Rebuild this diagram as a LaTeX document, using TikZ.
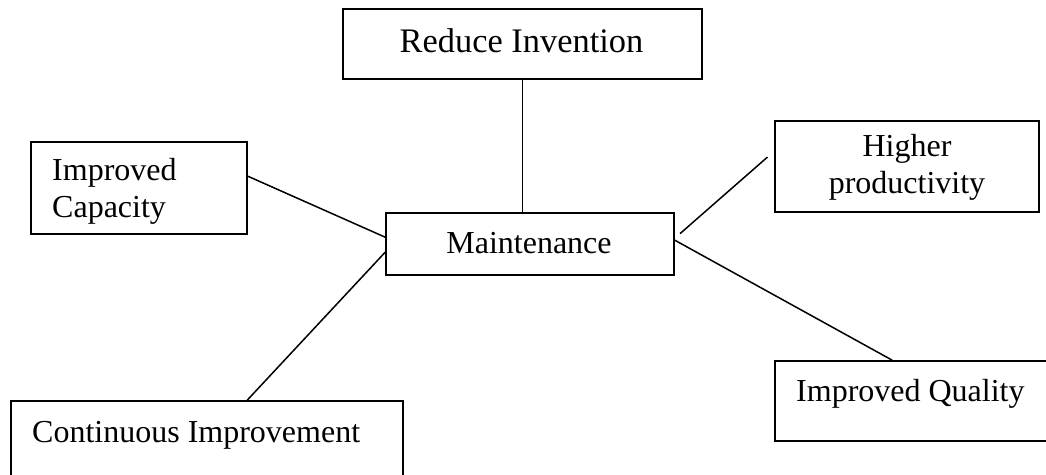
\documentclass[tikz,border=0pt]{standalone}
\usepackage{fontspec}
\setmainfont{Liberation Serif}
\begin{document}
\begin{tikzpicture}[x=1pt,y=-1pt,
  box/.style={draw, line width=1.6pt, rectangle, inner sep=0pt},
  link/.style={line width=1.5pt},
  lbl/.style={inner sep=0pt, font=\fontsize{32}{37}\selectfont},
  biglbl/.style={inner sep=0pt, font=\fontsize{34.4}{40}\selectfont}]
\useasboundingbox (0,0) rectangle (1046,474);
\clip (0,0) rectangle (1046,474);
% boxes
\node[box, minimum width=359pt, minimum height=70pt] (RI) at (522.5,44) {};
\node[box, minimum width=216pt, minimum height=92pt] (IC) at (139,188) {};
\node[box, minimum width=264pt, minimum height=91pt] (HP) at (907,166.5) {};
\node[box, minimum width=288pt, minimum height=62pt] (M) at (530,244) {};
\node[box, minimum width=300pt, minimum height=80pt] (IQ) at (925,401) {};
\node[box, minimum width=392pt, minimum height=99pt] (CI) at (207,450.5) {};
% texts
\node[biglbl, anchor=base] (tRI) at (521.5,52) {Reduce Invention};
\node[lbl, anchor=base] (tM) at (529,253) {Maintenance};
\node[lbl, anchor=base west] (tIC1) at (52,180) {Improved};
\node[lbl, anchor=base west] (tIC2) at (52,217) {Capacity};
\node[lbl, anchor=base] (tHP1) at (907,156) {Higher};
\node[lbl, anchor=base] (tHP2) at (907,193) {productivity};
\node[lbl, anchor=base west] (tIQ) at (796,401) {Improved Quality};
\node[lbl, anchor=base west] (tCI) at (32,442) {Continuous Improvement};
% connectors
\draw[link] (RI.south) -- (RI.south |- M.north);
\draw[link] ([yshift=-35pt]IC.north east) -- ([yshift=-25pt]M.north west);
\draw[link, shorten <=9pt, shorten >=7pt] ([yshift=-31pt]HP.north west) -- ([yshift=-26pt]M.north east);
\draw[link] ([yshift=-28pt]M.north east) -- ([xshift=118pt]IQ.north west);
\draw[link] ([yshift=-40pt]M.north west) -- ([xshift=237pt]CI.north west);
\end{tikzpicture}
\end{document}
